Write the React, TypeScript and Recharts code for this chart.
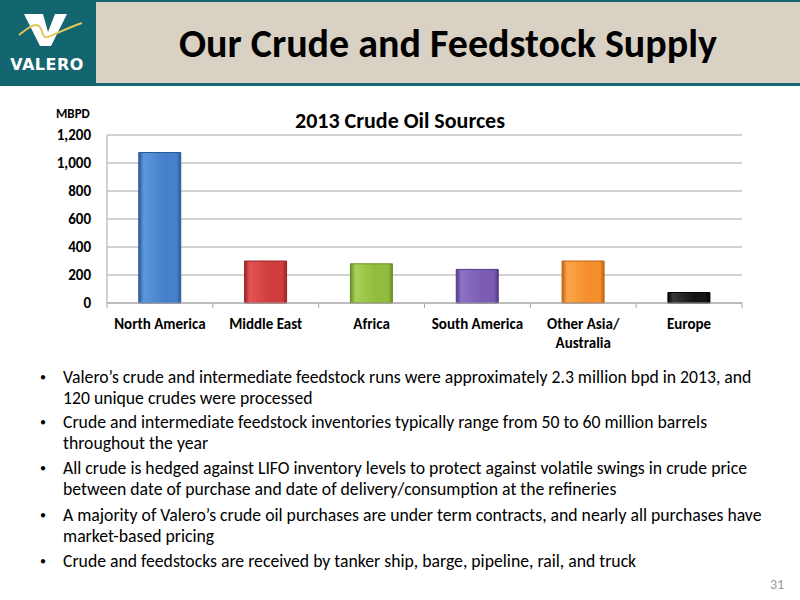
import { Bar, BarChart, CartesianGrid, Cell, XAxis, YAxis } from "recharts";

const CATEGORIES = [
  "North America",
  "Middle East",
  "Africa",
  "South America",
  "Other Asia/ Australia",
  "Europe",
];
const VALUES = [1075, 300, 280, 240, 300, 75];
const Y_TICKS = [0, 200, 400, 600, 800, 1000, 1200];

const BULLETS = [
  "Valero\u2019s crude and intermediate feedstock runs were approximately 2.3 million bpd in 2013, and 120 unique crudes were processed",
  "Crude and intermediate feedstock inventories typically range from 50 to 60 million barrels throughout the year",
  "All crude is hedged against LIFO inventory levels to protect against volatile swings in crude price between date of purchase and date of delivery/consumption at the refineries",
  "A majority of Valero\u2019s crude oil purchases are under term contracts, and nearly all purchases have market-based pricing",
  "Crude and feedstocks are received by tanker ship, barge, pipeline, rail, and truck",
];
const BULLET_TOPS = [367, 412, 458, 505, 551];

// [dark edge, light, base]
const BAR_COLORS = [
  ["#2b5a98", "#5d97dd", "#4680cc"],
  ["#9a2424", "#e25454", "#d03d3d"],
  ["#6a8c25", "#a8d055", "#90bd3d"],
  ["#523a82", "#8e72c6", "#7a5cb4"],
  ["#bd6416", "#fba548", "#f58f2c"],
  ["#000000", "#3a3a3a", "#141414"],
];

const FONT = "Carlito, Lato, 'Open Sans', sans-serif";
const TEAL = "#13656f";

const CHART_W = 800;
const MARGIN = { top: 35, right: 58, bottom: 7, left: 47 };
const Y_W = 60;
const BAND = (CHART_W - MARGIN.left - MARGIN.right - Y_W) / CATEGORIES.length;

const data = CATEGORIES.map((name, i) => ({ name, value: VALUES[i] }));

function CatTick(props: any) {
  const { x, y, payload, index } = props;
  const label: string = payload.value;
  const lines = label.includes("/ ") ? [label.split("/ ")[0] + "/", label.split("/ ")[1]] : [label];
  const last = index === CATEGORIES.length - 1;
  return (
    <g>
      <line x1={x - BAND / 2} x2={x - BAND / 2} y1={y} y2={y + 5} stroke="#a6a6a6" />
      {last && <line x1={x + BAND / 2} x2={x + BAND / 2} y1={y} y2={y + 5} stroke="#a6a6a6" />}
      <text x={x} y={y + 26} textAnchor="middle" fontSize={15} fontWeight={700} fill="#000" fontFamily={FONT}>
        {lines.map((l, i) => (
          <tspan key={i} x={x} dy={i === 0 ? 0 : 19}>
            {l}
          </tspan>
        ))}
      </text>
    </g>
  );
}

function Logo() {
  return (
    <svg width={96} height={84} style={{ position: "absolute", left: 0, top: 0 }}>
      <rect width={96} height={84} fill={TEAL} />
      <polygon points="24,14 43,14 48,32 55,14 67,14 51,46 40,46" fill="#fff" />
      <path d="M19,35 C29,27 36,22 40,27 C43,31 42,39 48,37 C58,33 70,27 82,23" stroke="#e2c65a" strokeWidth={2} fill="none" />
      <text x={47} y={70} textAnchor="middle" fontSize={16} fontWeight={900} fill="#fff" fontFamily="'DejaVu Sans', sans-serif" letterSpacing={0.5}>
        VALERO
      </text>
    </svg>
  );
}

export default function App() {
  return (
    <div style={{ position: "absolute", left: 0, top: 0, width: 800, height: 600, background: "#fff", fontFamily: FONT, overflow: "hidden" }}>
      {/* header band */}
      <div style={{ position: "absolute", left: 0, top: 0, width: 800, height: 2, background: TEAL }} />
      <div style={{ position: "absolute", left: 96, top: 2, width: 704, height: 81, background: "#d9d1c4" }} />
      <div style={{ position: "absolute", left: 0, top: 83, width: 800, height: 3, background: TEAL }} />
      <Logo />
      <div style={{ position: "absolute", left: 96, top: 20, width: 704, textAlign: "center", fontSize: 40, fontWeight: 700, color: "#000", lineHeight: "48px" }}>
        Our Crude and Feedstock Supply
      </div>

      {/* chart */}
      <div style={{ position: "absolute", left: 0, top: 108, width: 800, textAlign: "center", fontSize: 22, fontWeight: 700, lineHeight: "26px" }}>
        2013 Crude Oil Sources
      </div>
      <div style={{ position: "absolute", left: 56, top: 106, fontSize: 13, fontWeight: 700, lineHeight: "16px" }}>MBPD</div>
      <div style={{ position: "absolute", left: 0, top: 100 }}>
        <BarChart width={CHART_W} height={260} data={data} margin={MARGIN} barCategoryGap="30%">
          <defs>
            {BAR_COLORS.map((c, i) => (
              <linearGradient key={i} id={`bar-g-${i}`} x1="0" y1="0" x2="1" y2="0">
                <stop offset="0%" stopColor={c[0]} />
                <stop offset="12%" stopColor={c[1]} />
                <stop offset="60%" stopColor={c[2]} />
                <stop offset="90%" stopColor={c[2]} />
                <stop offset="100%" stopColor={c[0]} />
              </linearGradient>
            ))}
          </defs>
          <CartesianGrid vertical={false} stroke="#a6a6a6" />
          <XAxis
            dataKey="name"
            interval={0}
            height={50}
            tickSize={0}
            tickMargin={0}
            tickLine={false}
            axisLine={{ stroke: "#a6a6a6" }}
            tick={<CatTick />}
          />
          <YAxis
            width={Y_W}
            domain={[0, 1200]}
            ticks={Y_TICKS}
            interval={0}
            tickFormatter={(v: number) => v.toLocaleString("en-US")}
            tickLine={false}
            tickSize={6}
            tickMargin={10}
            axisLine={{ stroke: "#a6a6a6" }}
            tick={{ fill: "#000", fontSize: 15, fontWeight: 700, fontFamily: FONT }}
          />
          <Bar dataKey="value" isAnimationActive={false}>
            {data.map((_, i) => (
              <Cell key={i} fill={`url(#bar-g-${i})`} stroke={BAR_COLORS[i][0]} strokeWidth={1} />
            ))}
          </Bar>
        </BarChart>
      </div>

      {/* bullets */}
      {BULLETS.map((b, i) => (
        <div key={i} style={{ position: "absolute", left: 40, top: BULLET_TOPS[i], width: 728, fontSize: 17.7, lineHeight: "21px", color: "#000", display: "flex" }}>
          <span style={{ width: 23, flexShrink: 0, fontSize: 12 }}>{"\u2022"}</span>
          <span>{b}</span>
        </div>
      ))}

      <div style={{ position: "absolute", left: 770, top: 576, fontSize: 14, color: "#9a9a9a" }}>31</div>
    </div>
  );
}
